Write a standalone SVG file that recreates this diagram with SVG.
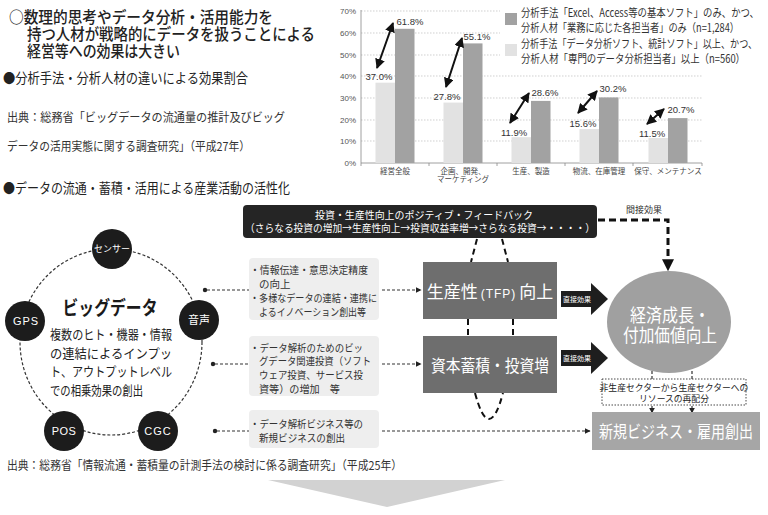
<svg xmlns="http://www.w3.org/2000/svg" width="768" height="515" viewBox="0 0 768 515">
<defs>
<style>
.t{font-size:16px;font-weight:500}
.h{font-size:13.5px}
.src{font-size:12px;fill:#333}
.lat{font-family:"Liberation Sans","Noto Sans CJK JP",sans-serif}
.ax{font-size:8px;fill:#555}
.cat{font-size:7.5px;fill:#444}
.val{font-size:9.5px;fill:#333}
.lg{font-size:11.5px;fill:#333}
.grid{stroke:#bbb;stroke-width:0.7;stroke-dasharray:1.5,1.5}
.bd{fill:#a2a2a2}
.bl{fill:#e2e2e2}
.dbl{stroke:#111;stroke-width:2;marker-start:url(#ah);marker-end:url(#ah)}
.node{fill:#1c1c1c}
.nt{fill:#fff;font-size:11px;text-anchor:middle}
.box{fill:#eeeeee}
.bt{font-size:10.5px;fill:#333}
.dash{stroke:#333;stroke-width:1.2;stroke-dasharray:3,2;fill:none}
.loop{stroke:#111;stroke-width:2;stroke-dasharray:6,4;fill:none}
.blk{fill:#6e6e6e}
.bw{fill:#fff;font-size:17px;text-anchor:middle}
.de{fill:#fff;font-size:7px;text-anchor:middle}
.wt{fill:#fff}
</style>
<marker id="ah" viewBox="0 0 10 10" refX="9" refY="5" markerUnits="userSpaceOnUse" markerWidth="10" markerHeight="10" orient="auto-start-reverse"><path d="M0,0 L10,5 L0,10 z" fill="#111"/></marker>
<marker id="sa" viewBox="0 0 10 10" refX="9" refY="5" markerUnits="userSpaceOnUse" markerWidth="6" markerHeight="6" orient="auto"><path d="M0,0 L10,5 L0,10 z" fill="#222"/></marker>
<marker id="ba" viewBox="0 0 10 10" refX="9" refY="5" markerUnits="userSpaceOnUse" markerWidth="12" markerHeight="12" orient="auto"><path d="M0,0 L10,5 L0,10 z" fill="#111"/></marker>
</defs>
<rect width="768" height="515" fill="#fff"/>
<g font-family="'Noto Sans CJK JP','Noto Sans',sans-serif" fill="#222">

<g id="title">
<text class="t" x="9" y="23" textLength="264" lengthAdjust="spacingAndGlyphs">○数理的思考やデータ分析・活用能力を</text>
<text class="t" x="27" y="40" textLength="288" lengthAdjust="spacingAndGlyphs">持つ人材が戦略的にデータを扱うことによる</text>
<text class="t" x="27" y="57" textLength="153" lengthAdjust="spacingAndGlyphs">経営等への効果は大きい</text>
<text class="h" x="3" y="83" textLength="245" lengthAdjust="spacingAndGlyphs">●分析手法・分析人材の違いによる効果割合</text>
<text class="src" x="7" y="122" textLength="278" lengthAdjust="spacingAndGlyphs">出典：総務省「ビッグデータの流通量の推計及びビッグ</text>
<text class="src" x="7" y="151" textLength="243" lengthAdjust="spacingAndGlyphs">データの活用実態に関する調査研究」（平成27年）</text>
<text class="h" x="3" y="193" textLength="287" lengthAdjust="spacingAndGlyphs">●データの流通・蓄積・活用による産業活動の活性化</text>
</g>

<g id="chart">
<g id="grid">
<line class="grid" x1="361" y1="11" x2="500" y2="11"/>
<line class="grid" x1="361" y1="33" x2="500" y2="33"/>
<line class="grid" x1="361" y1="55" x2="500" y2="55"/>
<line class="grid" x1="361" y1="76" x2="702" y2="76"/>
<line class="grid" x1="361" y1="98" x2="702" y2="98"/>
<line class="grid" x1="361" y1="120" x2="702" y2="120"/>
<line class="grid" x1="361" y1="141" x2="702" y2="141"/>
<line x1="361" y1="10" x2="361" y2="163" stroke="#888" stroke-width="0.8"/>
<line x1="361" y1="163" x2="702" y2="163" stroke="#888" stroke-width="0.8"/>
<path d="M361,163v3M429,163v3M497,163v3M565,163v3M633,163v3M702,163v3" stroke="#888" stroke-width="0.8"/>
</g>
<g id="yaxis" text-anchor="end">
<text class="ax lat" x="356" y="14">70%</text>
<text class="ax lat" x="356" y="36">60%</text>
<text class="ax lat" x="356" y="58">50%</text>
<text class="ax lat" x="356" y="79">40%</text>
<text class="ax lat" x="356" y="101">30%</text>
<text class="ax lat" x="356" y="123">20%</text>
<text class="ax lat" x="356" y="144">10%</text>
<text class="ax lat" x="356" y="166">0%</text>
</g>
<g id="bars">
<rect class="bl" x="375.5" y="82.7" width="19.5" height="80.3"/>
<rect class="bd" x="395" y="28.8" width="19.5" height="134.2"/>
<rect class="bl" x="443.5" y="102.6" width="19.5" height="60.4"/>
<rect class="bd" x="463" y="43.4" width="19.5" height="119.6"/>
<rect class="bl" x="511.5" y="137.2" width="19.5" height="25.8"/>
<rect class="bd" x="531" y="100.9" width="19.5" height="62.1"/>
<rect class="bl" x="579.5" y="129.1" width="19.5" height="33.9"/>
<rect class="bd" x="599" y="97.4" width="19.5" height="65.6"/>
<rect class="bl" x="648.5" y="138" width="19.5" height="25"/>
<rect class="bd" x="668" y="118.1" width="19.5" height="44.9"/>
</g>
<g id="values" text-anchor="middle">
<text class="val lat" x="379" y="80">37.0%</text>
<text class="val lat" x="410" y="25">61.8%</text>
<text class="val lat" x="447" y="100">27.8%</text>
<text class="val lat" x="477" y="40">55.1%</text>
<text class="val lat" x="514" y="136">11.9%</text>
<text class="val lat" x="545" y="96">28.6%</text>
<text class="val lat" x="583" y="127">15.6%</text>
<text class="val lat" x="613" y="92">30.2%</text>
<text class="val lat" x="652" y="137">11.5%</text>
<text class="val lat" x="681" y="113">20.7%</text>
</g>
<g id="categories" text-anchor="middle">
<text class="cat" x="395" y="174">経営全般</text>
<text class="cat" x="463" y="174">企画、開発、</text>
<text class="cat" x="463" y="182">マーケティング</text>
<text class="cat" x="531" y="174">生産、製造</text>
<text class="cat" x="599" y="174">物流、在庫管理</text>
<text class="cat" x="668" y="174">保守、メンテナンス</text>
</g>
<g id="diffarrows">
<line class="dbl" x1="377" y1="68" x2="393" y2="23"/>
<line class="dbl" x1="446" y1="87" x2="462" y2="38"/>
<line class="dbl" x1="510" y1="123" x2="529" y2="93"/>
<line class="dbl" x1="578" y1="113" x2="597" y2="91"/>
<line class="dbl" x1="647" y1="124" x2="664" y2="109"/>
</g>
<g id="legend">
<rect class="bd" x="505" y="13" width="12" height="12"/>
<text class="lg" x="521" y="17" textLength="238" lengthAdjust="spacingAndGlyphs">分析手法「Excel、Access等の基本ソフト」のみ、かつ、</text>
<text class="lg" x="521" y="32" textLength="218" lengthAdjust="spacingAndGlyphs">分析人材「業務に応じた各担当者」のみ（n=1,284）</text>
<rect class="bl" x="505" y="44" width="12" height="12"/>
<text class="lg" x="521" y="48" textLength="236" lengthAdjust="spacingAndGlyphs">分析手法「データ分析ソフト、統計ソフト」以上、かつ、</text>
<text class="lg" x="521" y="63" textLength="224" lengthAdjust="spacingAndGlyphs">分析人材「専門のデータ分析担当者」以上（n=560）</text>
</g>
</g>

<g id="connectors">
<ellipse cx="111" cy="342" rx="91" ry="93" fill="none" stroke="#333" stroke-width="1.2" stroke-dasharray="3,2"/>
<circle cx="205" cy="290" r="2.2" fill="#222"/>
<circle cx="213" cy="364" r="2.2" fill="#222"/>
<circle cx="215" cy="431" r="2.2" fill="#222"/>
<line class="dash" x1="207" y1="290" x2="249" y2="290"/>
<line class="dash" x1="215" y1="364" x2="249" y2="364"/>
<line class="dash" x1="217" y1="431" x2="249" y2="431"/>
<line class="dash" x1="382" y1="290" x2="421" y2="290" marker-end="url(#sa)"/>
<line class="dash" x1="382" y1="364" x2="421" y2="364" marker-end="url(#sa)"/>
<line class="dash" x1="382" y1="431" x2="590" y2="431" marker-end="url(#sa)"/>
<path class="loop" d="M477,239 L471,262"/>
<path class="loop" d="M502,239 L508,262"/>
<path class="loop" d="M468,319 L468,336"/>
<path class="loop" d="M513,319 L513,336"/>
<path class="loop" d="M475,393 Q489,445 503,393"/>
<path d="M598,220 H668 V270" fill="none" stroke="#111" stroke-width="3" stroke-dasharray="7,4" marker-end="url(#ba)"/>
<text x="644" y="213" font-size="9" text-anchor="middle" fill="#333">間接効果</text>
<line class="dash" x1="652" y1="379" x2="652" y2="363" marker-end="url(#sa)"/>
<line class="dash" x1="692" y1="379" x2="692" y2="363" marker-end="url(#sa)"/>
<line class="dash" x1="652" y1="406" x2="652" y2="413" marker-end="url(#sa)"/>
<line class="dash" x1="692" y1="406" x2="692" y2="413" marker-end="url(#sa)"/>
<g id="direct1">
<polygon points="561,291 591,291 591,283 608,299 591,315 591,307 561,307" fill="#1e1e1e"/>
<text class="de" x="577" y="302">直接効果</text>
</g>
<g id="direct2">
<polygon points="561,350 591,350 591,342 608,358 591,374 591,366 561,366" fill="#1e1e1e"/>
<text class="de" x="577" y="361">直接効果</text>
</g>
</g>

<g id="bigdata">
<text x="110" y="315" font-size="19" font-weight="700" text-anchor="middle" textLength="95" lengthAdjust="spacingAndGlyphs" fill="#1a1a1a">ビッグデータ</text>
<text x="50" y="339" font-size="13" textLength="122" lengthAdjust="spacingAndGlyphs">複数のヒト・機器・情報</text>
<text x="50" y="358" font-size="13" textLength="122" lengthAdjust="spacingAndGlyphs">の連結によるインプッ</text>
<text x="50" y="376" font-size="13" textLength="122" lengthAdjust="spacingAndGlyphs">ト、アウトプットレベル</text>
<text x="50" y="395" font-size="13" textLength="93" lengthAdjust="spacingAndGlyphs">での相乗効果の創出</text>
</g>
<g id="sensor"><circle class="node" cx="112" cy="249" r="20"/><text class="nt" x="112" y="252" style="font-size:9px">センサー</text></g>
<g id="onsei"><circle class="node" cx="199" cy="320" r="20"/><text class="nt" x="199" y="324">音声</text></g>
<g id="gps"><circle class="node" cx="25" cy="321" r="20"/><text class="nt lat" x="26" y="325" letter-spacing="1">GPS</text></g>
<g id="pos"><circle class="node" cx="64" cy="431" r="20"/><text class="nt lat" x="64" y="435" letter-spacing="0.5">POS</text></g>
<g id="cgc"><circle class="node" cx="158" cy="431" r="20"/><text class="nt lat" x="158" y="435" letter-spacing="1">CGC</text></g>

<g id="box1">
<rect class="box" x="249" y="258" width="130" height="62" rx="4"/>
<text class="bt" x="250" y="274" textLength="118" lengthAdjust="spacingAndGlyphs">・情報伝達・意思決定精度</text>
<text class="bt" x="259" y="288">の向上</text>
<text class="bt" x="250" y="302" textLength="127" lengthAdjust="spacingAndGlyphs">・多様なデータの連結・連携に</text>
<text class="bt" x="259" y="316" textLength="107" lengthAdjust="spacingAndGlyphs">よるイノベーション創出等</text>
</g>
<g id="box2">
<rect class="box" x="249" y="336" width="130" height="60" rx="4"/>
<text class="bt" x="250" y="352" textLength="113" lengthAdjust="spacingAndGlyphs">・データ解析のためのビッ</text>
<text class="bt" x="259" y="365" textLength="112" lengthAdjust="spacingAndGlyphs">グデータ関連投資（ソフト</text>
<text class="bt" x="259" y="379" textLength="104" lengthAdjust="spacingAndGlyphs">ウェア投資、サービス投</text>
<text class="bt" x="259" y="393" textLength="81" lengthAdjust="spacingAndGlyphs">資等）の増加　等</text>
</g>
<g id="box3">
<rect class="box" x="249" y="410" width="130" height="38" rx="4"/>
<text class="bt" x="250" y="428" textLength="113" lengthAdjust="spacingAndGlyphs">・データ解析ビジネス等の</text>
<text class="bt" x="259" y="442" textLength="86" lengthAdjust="spacingAndGlyphs">新規ビジネスの創出</text>
</g>

<g id="feedback">
<rect x="243" y="205" width="354" height="33" rx="4" fill="#252525"/>
<text class="wt" x="424" y="219" font-size="10.5" text-anchor="middle" textLength="218" lengthAdjust="spacingAndGlyphs">投資・生産性向上のポジティブ・フィードバック</text>
<text class="wt" x="420" y="232" font-size="10.5" text-anchor="middle" textLength="350" lengthAdjust="spacingAndGlyphs">（さらなる投資の増加→生産性向上→投資収益率増→さらなる投資→・・・・）</text>
</g>

<g id="tfp">
<rect class="blk" x="423" y="262" width="134" height="57"/>
<text class="bw" x="490" y="298"><tspan>生産性</tspan><tspan font-size="12" font-family="Liberation Sans, sans-serif" letter-spacing="1" dx="3">(TFP)</tspan><tspan dx="3">向上</tspan></text>
</g>
<g id="capital">
<rect class="blk" x="423" y="336" width="134" height="57"/>
<text class="bw" x="490" y="372" textLength="118" lengthAdjust="spacingAndGlyphs">資本蓄積・投資増</text>
</g>

<g id="growth">
<ellipse cx="669" cy="322" rx="62" ry="51" fill="#a0a0a0"/>
<text class="bw" x="670" y="322" style="font-size:18.5px" textLength="80" lengthAdjust="spacingAndGlyphs">経済成長・</text>
<text class="bw" x="670" y="342" style="font-size:18.5px" textLength="94" lengthAdjust="spacingAndGlyphs">付加価値向上</text>
</g>

<g id="realloc">
<rect x="602" y="379" width="144" height="26" fill="#fff" stroke="#333" stroke-width="0.9" stroke-dasharray="1.5,1.5"/>
<text x="674" y="391" font-size="8.8" text-anchor="middle">非生産セクターから生産セクターへの</text>
<text x="674" y="402" font-size="8.8" text-anchor="middle">リソースの再配分</text>
</g>

<g id="newbiz">
<rect x="592" y="412" width="168" height="38" fill="#a6a6a6"/>
<text class="bw" x="676" y="438" textLength="154" lengthAdjust="spacingAndGlyphs">新規ビジネス・雇用創出</text>
</g>

<g id="footer">
<text class="src" x="7" y="470" textLength="395" lengthAdjust="spacingAndGlyphs">出典：総務省「情報流通・蓄積量の計測手法の検討に係る調査研究」（平成25年）</text>
<polygon points="268,480 505,480 387,507" fill="#d2d2d2"/>
</g>
</g>
</svg>
